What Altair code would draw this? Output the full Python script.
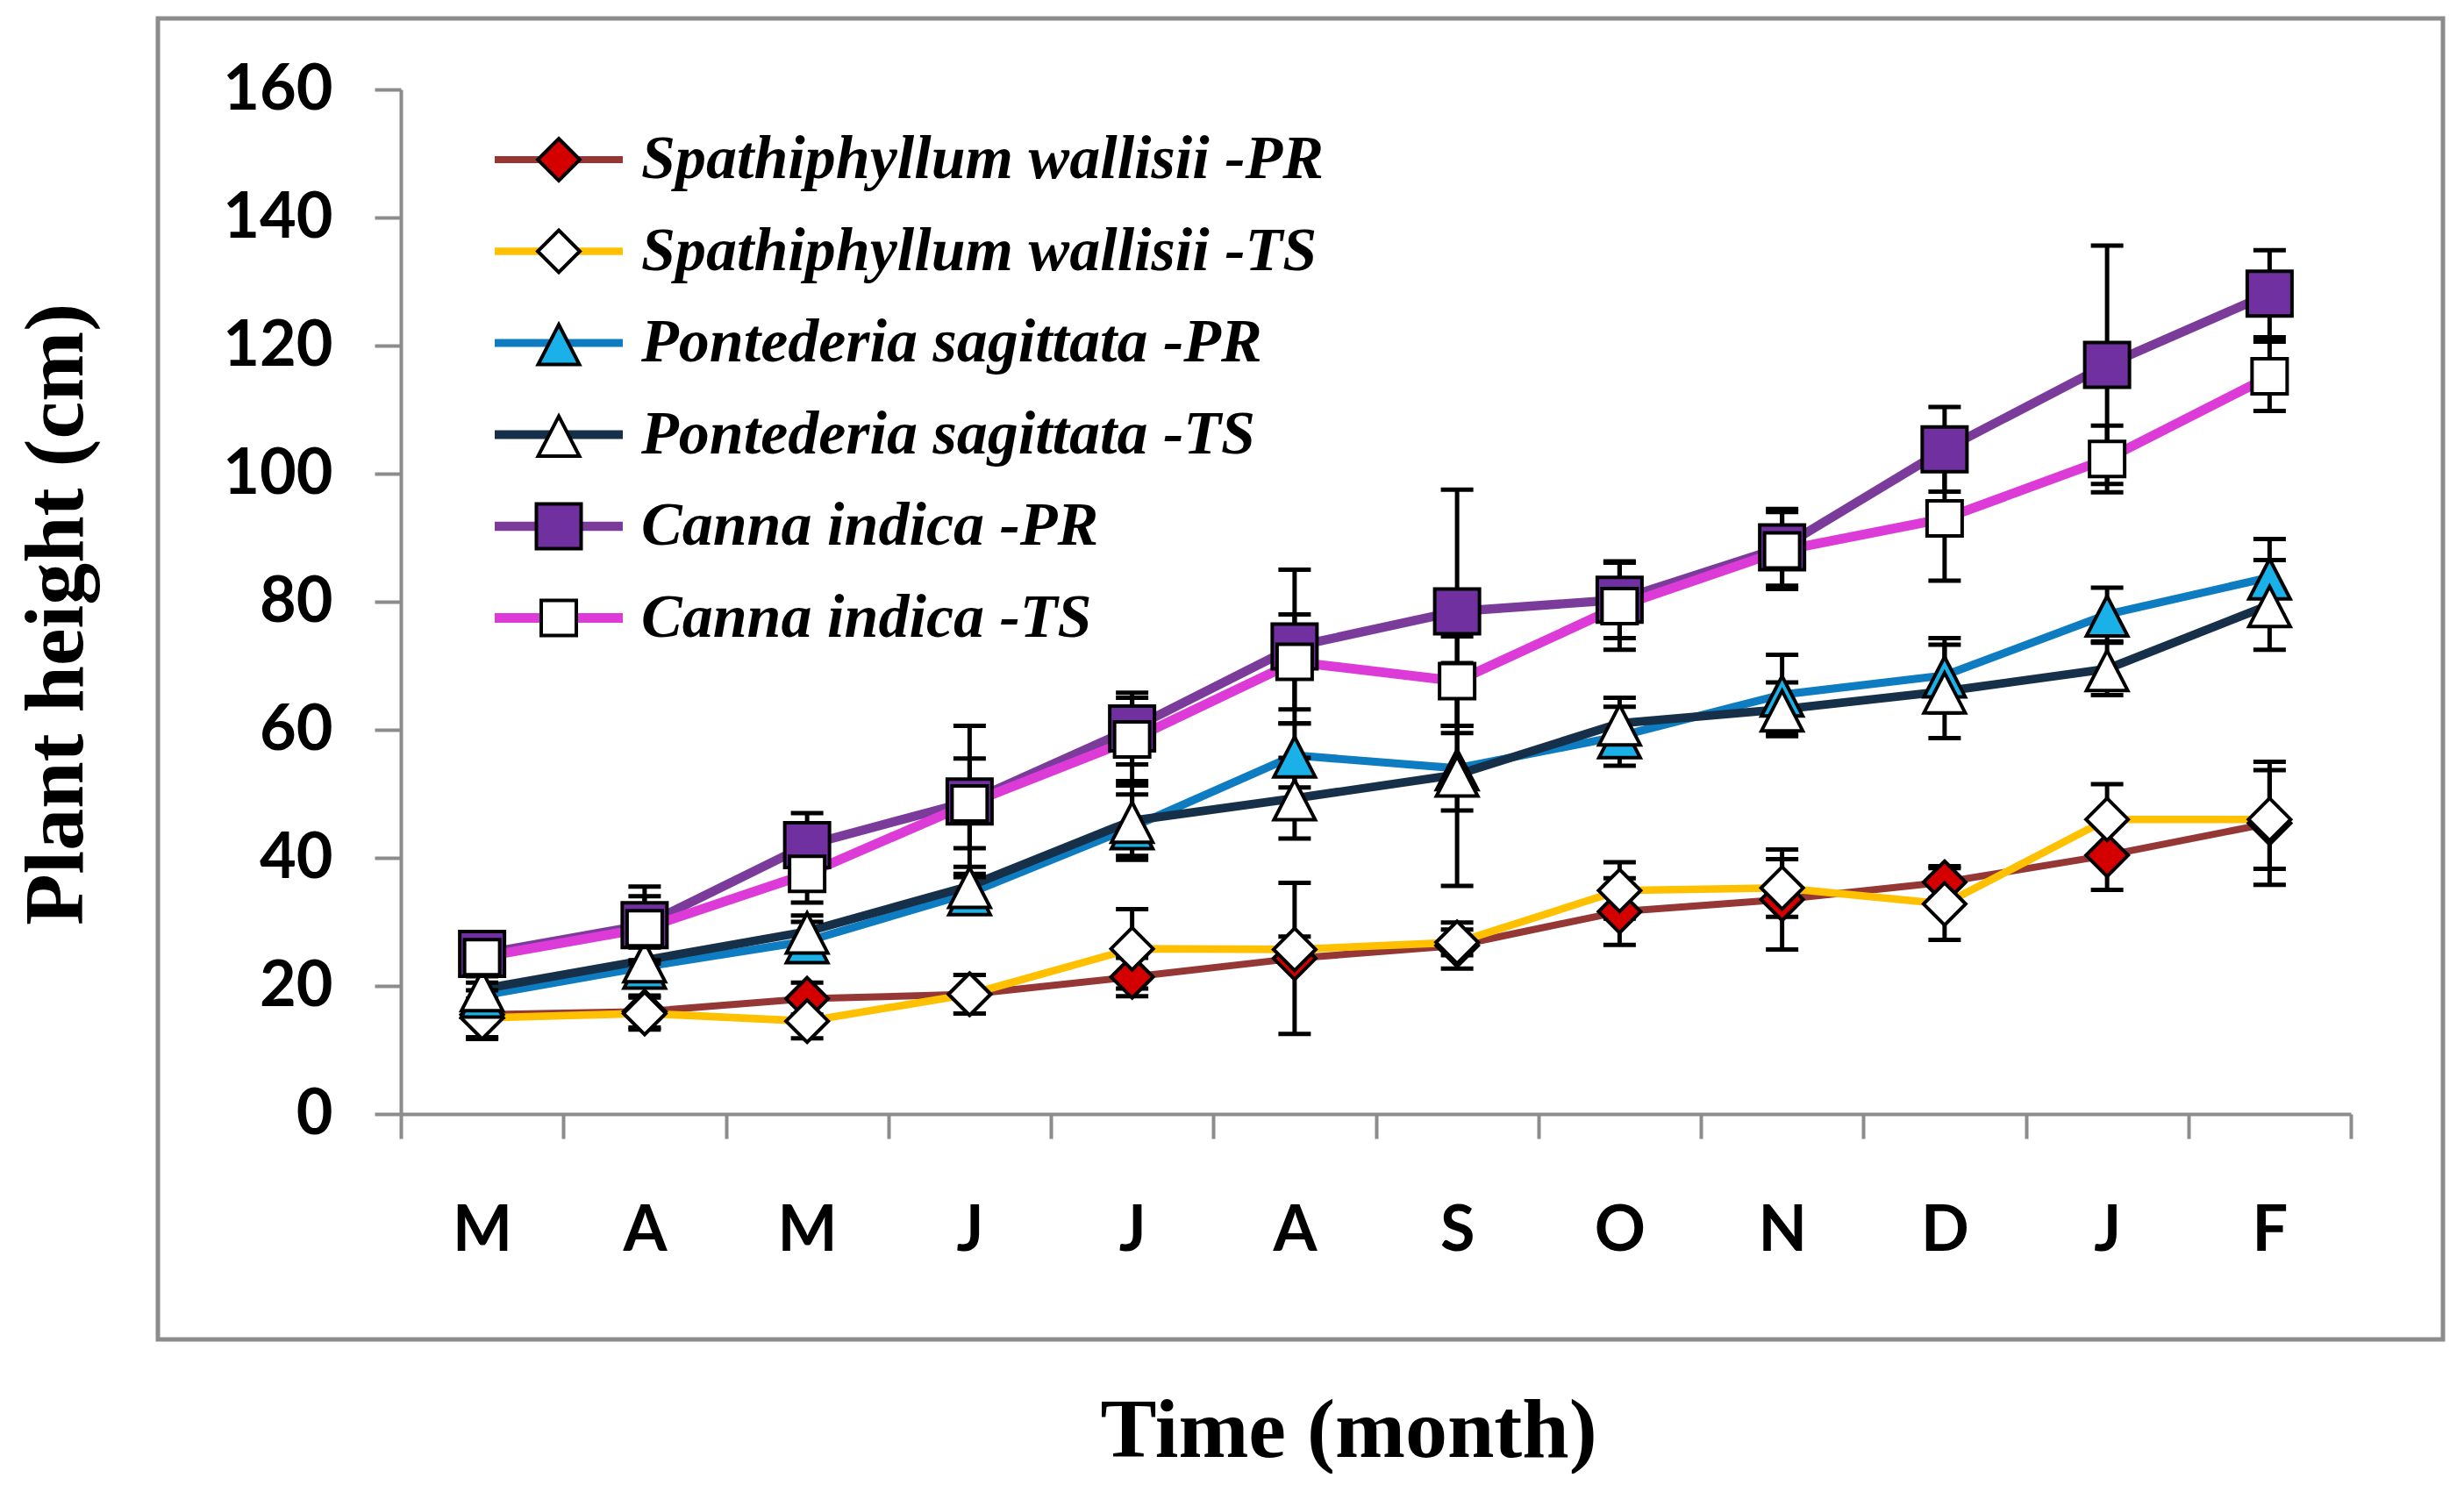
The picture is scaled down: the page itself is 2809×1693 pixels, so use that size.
import altair as alt
import pandas as pd

# ---------------- data ----------------
months = ["Mar", "Apr", "May", "Jun", "Jul", "Aug", "Sep", "Oct", "Nov", "Dec", "Jan", "Feb"]
tick_labels = ["M", "A", "M", "J", "J", "A", "S", "O", "N", "D", "J", "F"]

series_names = [
    "Spathiphyllum wallisii -PR",
    "Spathiphyllum wallisii -TS",
    "Pontederia sagittata  -PR",
    "Pontederia sagittata  -TS",
    "Canna indica  -PR",
    "Canna indica  -TS",
]
marker_keys = ["m1", "m2", "m3", "m4", "m5", "m6"]

spath_pr = [15.5, 16.0, 18.0, 18.7, 21.4, 24.3, 26.3, 31.6, 33.5, 36.2, 40.4, 45.4]
spath_ts = [15.0, 15.7, 14.5, 18.7, 25.8, 25.7, 26.8, 34.9, 35.3, 32.8, 46.0, 46.0]
pont_pr = [18.5, 23.0, 27.0, 34.5, 44.8, 56.0, 54.0, 59.0, 65.5, 68.5, 78.0, 83.8]
pont_ts = [19.5, 24.0, 28.5, 35.6, 45.8, 49.3, 53.0, 61.0, 63.2, 66.0, 69.5, 79.5]
canna_pr = [25.0, 29.5, 42.0, 48.8, 60.2, 73.0, 78.5, 80.3, 88.5, 103.8, 117.0, 128.1]
canna_ts = [24.5, 29.0, 37.5, 48.5, 58.5, 70.6, 67.6, 79.3, 88.0, 93.0, 102.3, 115.2]

spath_pr_err = [3.8, 2.5, 2.5, 3.0, 3.0, 11.8, 3.6, 5.2, 7.8, 2.5, 5.4, 9.6]
spath_ts_err = [3.0, 2.5, 2.7, 3.0, 6.2, 2.0, 2.0, 4.4, 4.5, 5.6, 5.5, 7.7]
pont_pr_err = [2.0, 3.0, 3.0, 3.0, 5.1, 5.0, 6.6, 4.6, 6.2, 5.8, 4.2, 6.0]
pont_ts_err = [2.0, 2.5, 2.5, 3.0, 5.5, 6.3, 17.4, 4.0, 4.2, 7.3, 4.1, 7.0]
canna_pr_err = [2.0, 6.0, 5.0, 11.8, 5.6, 12.0, 19.0, 6.0, 6.0, 6.6, 18.6, 6.8]
canna_ts_err = [2.0, 5.0, 4.5, 7.0, 6.5, 7.4, 7.0, 6.8, 6.0, 9.7, 5.2, 5.4]

values = [spath_pr, spath_ts, pont_pr, pont_ts, canna_pr, canna_ts]
errors = [spath_pr_err, spath_ts_err, pont_pr_err, pont_ts_err, canna_pr_err, canna_ts_err]

line_colors = ["#953735", "#FFC000", "#0E7CC0", "#17304A", "#7B3B9B", "#DD3BD8"]
line_widths = [8, 11, 8, 8, 8, 8]
marker_fills = ["#D40000", "#FFFFFF", "#1AB0E8", "#FFFFFF", "#7030A0", "#FFFFFF"]
marker_strokes = ["#000000"] * 6
marker_paths = [
    "M0,-0.96L0.96,0L0,0.96L-0.96,0Z",
    "M0,-0.96L0.96,0L0,0.96L-0.96,0Z",
    "M0,-0.84L0.94,0.98L-0.94,0.98Z",
    "M0,-0.84L0.94,0.98L-0.94,0.98Z",
    "M-1.02,-1.02H1.02V1.02H-1.02Z",
    "M-0.8,-0.8H0.8V0.8H-0.8Z",
]

rows = []
for name, key, vals, errs in zip(series_names, marker_keys, values, errors):
    for i, (m, v, e) in enumerate(zip(months, vals, errs)):
        rows.append({"month": m, "idx": i, "series": name, "marker": key,
                     "value": v, "lo": v - e, "hi": v + e})
df = pd.DataFrame(rows)

label_expr = "[" + ",".join("'%s'" % t for t in tick_labels) + "][indexof([" + \
    ",".join("'%s'" % m for m in months) + "], datum.value)]"

W, H = 2223, 1168

x_enc = alt.X(
    "month:N",
    scale=alt.Scale(type="band", domain=months, paddingInner=0, paddingOuter=0),
    axis=alt.Axis(
        title="Time (month)", labelExpr=label_expr, labelAngle=0,
        tickBand="extent", tickSize=28, tickWidth=4, tickColor="#8C8C8C",
        domainColor="#8C8C8C", domainWidth=4, labelPadding=70,
        labelFont="Lato", labelFontWeight="bold", labelFontSize=72, labelColor="black",
        titleFont="Liberation Serif", titleFontWeight="bold", titleFontSize=96,
        titleColor="black", titleX=1080, titleY=390, titleBaseline="alphabetic",
        titleAlign="center", grid=False,
    ),
)
y_scale = alt.Scale(domain=[0, 160], nice=False, zero=True)
y_axis = alt.Axis(
    title="Plant height (cm)", values=list(range(0, 161, 20)), tickSize=30, tickWidth=4,
    tickColor="#8C8C8C", domainColor="#8C8C8C", domainWidth=4, labelPadding=48,
    labelFont="Lato", labelFontWeight="bold", labelFontSize=72, labelColor="black",
    titleFont="Liberation Serif", titleFontWeight="bold", titleFontSize=96,
    titleColor="black", titleX=-364, titleY=598, titleBaseline="alphabetic",
    titleAlign="center", titleAngle=-90, grid=False,
)

legend_common = dict(
    title=None, orient="none", legendX=145, legendY=45, padding=0,
    symbolSize=2500, rowPadding=34.5, labelOffset=59, labelLimit=2000,
    labelFont="Liberation Serif", labelFontSize=70, labelFontStyle="italic",
    labelFontWeight="bold", symbolOpacity=1,
)

base = alt.Chart(df)

frame = alt.Chart(alt.Data(values=[{"a": 1}])).mark_rect(
    fillOpacity=0, stroke="#8C8C8C", strokeWidth=5
).encode(x=alt.value(-277), x2=alt.value(2328), y=alt.value(-81), y2=alt.value(1425))

lines = base.mark_line(strokeJoin="round").encode(
    x=x_enc,
    y=alt.Y("value:Q", scale=y_scale, axis=y_axis),
    color=alt.Color(
        "series:N", scale=alt.Scale(domain=series_names, range=line_colors),
        legend=alt.Legend(
            symbolType="M-2.92,0H2.92", symbolStrokeWidth=11,
            symbolFillColor="transparent", labelColor="black", **legend_common,
        ),
    ),
    strokeWidth=alt.StrokeWidth("series:N", scale=alt.Scale(domain=series_names, range=line_widths), legend=None),
    order=alt.Order("idx:Q"),
)

rules = base.mark_rule(color="black", strokeWidth=5).encode(
    x=alt.X("month:N"), y=alt.Y("lo:Q"), y2="hi:Q"
)
caps = base.transform_fold(["lo", "hi"], as_=["end", "cap"]).mark_tick(
    color="black", thickness=5, size=37, opacity=1
).encode(x=alt.X("month:N"), y=alt.Y("cap:Q"))

marker_legend = alt.Legend(
    symbolStrokeWidth=4, labelExpr="''", **legend_common
)
points = base.mark_point(filled=True, size=2500, strokeWidth=4, opacity=1).encode(
    x=alt.X("month:N"),
    y=alt.Y("value:Q"),
    shape=alt.Shape("marker:N", scale=alt.Scale(domain=marker_keys, range=marker_paths),
                    legend=marker_legend),
    fill=alt.Fill("marker:N", scale=alt.Scale(domain=marker_keys, range=marker_fills),
                  legend=marker_legend),
    stroke=alt.Stroke("marker:N", scale=alt.Scale(domain=marker_keys, range=marker_strokes),
                      legend=marker_legend),
)

chart = alt.layer(frame, lines, rules, caps, points).properties(
    width=W, height=H,
    autosize=alt.AutoSizeParams(type="none"),
    padding={"left": 449, "top": 94, "right": 121, "bottom": 410},
    background="white",
).configure_view(stroke="transparent")

chart.save("out.html", embed_options={"renderer": "svg", "actions": False})
